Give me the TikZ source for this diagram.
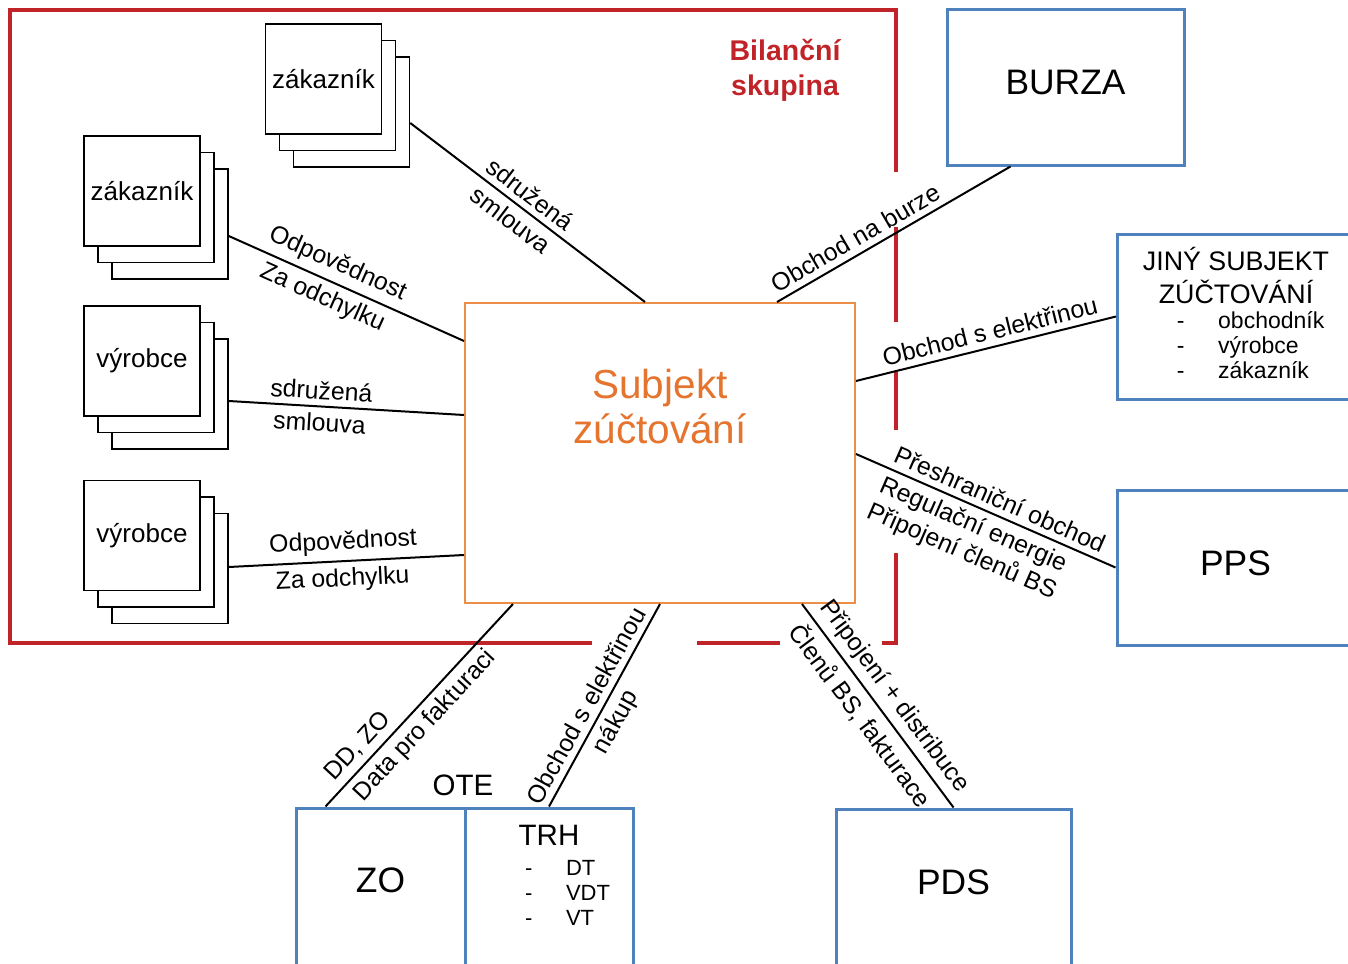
\documentclass[tikz,border=0pt]{standalone}
\usepackage{fontspec}
\setmainfont{Liberation Sans}
\usetikzlibrary{shadows}
\definecolor{bsred}{RGB}{192,36,40}
\definecolor{szline}{RGB}{234,142,72}
\definecolor{sztext}{RGB}{228,116,46}
\definecolor{boxblue}{RGB}{79,129,189}
\tikzset{
  stackbox/.style={draw, line width=0.75pt, fill=white, minimum width=58pt, minimum height=55pt,
    inner sep=0pt, font=\fontsize{13}{15}\selectfont,
    double copy shadow={shadow xshift=7pt, shadow yshift=-8.25pt}},
  blkbox/.style={draw=boxblue, line width=1.5pt, fill=white, inner sep=0pt},
  bigtxt/.style={font=\fontsize{17.7}{20}\selectfont},
  lbl/.style={font=\fontsize{12.4}{14.5}\selectfont, sloped, inner sep=3pt},
  link/.style={line width=1pt},
  bsline/.style={bsred, line width=1.8pt},
}
\begin{document}
\begin{tikzpicture}[x=0.5pt,y=-0.5pt]
\useasboundingbox (0,0) rectangle (1348,963);
% bilancni skupina (border with gaps)
\draw[bsline] (896,172) -- (896,10) -- (10,10) -- (10,643) -- (592,643);
\draw[bsline] (896,227) -- (896,322) (896,372) -- (896,430)
  (697,643) -- (780,643) (882,643) -- (896,643) -- (896,553);
\node[text=bsred, font=\bfseries\fontsize{14.25}{17.5}\selectfont, align=center] (bstitle) at (785,70) {Bilanční\\skupina};

% members of the group
\node[stackbox] (zak1) at (323.5,79) {zákazník};
\node[stackbox] (zak2) at (142,191) {zákazník};
\node[stackbox] (vyr1) at (142,361) {výrobce};
\node[stackbox] (vyr2) at (142,535.5) {výrobce};

\node[draw=szline, line width=1pt, fill=white, minimum width=195pt, minimum height=150pt,
  label={[text=sztext, font=\fontsize{20.25}{22.5}\selectfont, align=center, yshift=23pt]center:Subjekt\\zúčtování}] (subjekt) at (660,453) {};

% outside partners
\node[blkbox, minimum width=118.5pt, minimum height=77.5pt, label={[bigtxt, yshift=2.5pt]center:BURZA}] (burza) at (1065.5,87.5) {};
\node[blkbox, minimum width=118.5pt, minimum height=82.5pt] (jiny) at (1236,316.5) {\fontsize{11.5}{12.5}\selectfont
  \begin{tabular}{@{\hspace{17pt}}l@{\hspace{16.8pt}}l@{}}
  \multicolumn{2}{@{}c@{}}{\fontsize{13.4}{15}\selectfont JINÝ SUBJEKT}\\[1.2pt]
  \multicolumn{2}{@{}c@{}}{\fontsize{13.4}{15}\selectfont ZÚČTOVÁNÍ}\\
  - & obchodník\\
  - & výrobce\\
  - & zákazník
  \end{tabular}};
\node[blkbox, minimum width=118.5pt, minimum height=77.5pt, label={[bigtxt, yshift=2pt]center:PPS}] (pps) at (1235.5,567.5) {};
\node[blkbox, minimum width=84.5pt, minimum height=83.5pt, label={[bigtxt, yshift=5.75pt]center:ZO}] (zo) at (380.5,891.5) {};
\node[blkbox, minimum width=84pt, minimum height=83.5pt,
  label={[yshift=6.25pt]center:{\fontsize{11}{12.5}\selectfont
  \begin{tabular}{@{\hspace{18.6pt}}l@{\hspace{16.8pt}}l@{}}
  \multicolumn{2}{@{}c@{}}{\fontsize{14.75}{17}\selectfont TRH}\\[2.1pt]
  - & DT\\
  - & VDT\\
  - & VT
  \end{tabular}}}] (trh) at (549,891.5) {};
\node[font=\fontsize{14.75}{17}\selectfont] (ote) at (463,785) {OTE};
\node[blkbox, minimum width=117.5pt, minimum height=83pt, label={[bigtxt, yshift=5pt]center:PDS}] (pds) at (953.5,892) {};

% connections
\draw[link] ([shift={(28,44)}]zak1.east) -- ([shift={(-15,0)}]subjekt.north)
  node[lbl, pos=.47, above] {sdružená} node[lbl, pos=.47, below] {smlouva};
\draw[link] ([shift={(28,45)}]zak2.east) -- ([shift={(0,39)}]subjekt.north west)
  node[lbl, pos=.43, above] {Odpovědnost} node[lbl, pos=.43, below] {Za odchylku};
\draw[link] ([shift={(28,40)}]vyr1.east) -- ([shift={(0,113)}]subjekt.north west)
  node[lbl, pos=.39, above] {sdružená} node[lbl, pos=.39, below] {smlouva};
\draw[link] ([shift={(28,31.5)}]vyr2.east) -- ([shift={(0,253)}]subjekt.north west)
  node[lbl, pos=.49, above] {Odpovědnost} node[lbl, pos=.48, below] {Za odchylku};
\draw[link] ([shift={(117,0)}]subjekt.north) -- ([shift={(-55,0)}]burza.south)
  node[lbl, pos=.37, above] {Obchod na burze};
\draw[link] ([shift={(0,79)}]subjekt.north east) -- (jiny.west)
  node[lbl, pos=.53, above] {Obchod s elektřinou};
\draw[link] ([shift={(0,152)}]subjekt.north east) -- (pps.west)
  node[lbl, pos=.53, above] {Přeshraniční obchod}
  node[lbl, pos=.48, below, align=center] {Regulační energie\\Připojení členů BS};
\draw[link] ([shift={(31,0)}]zo.north west) -- ([shift={(-147,0)}]subjekt.south)
  node[lbl, pos=.24, above] {DD, ZO} node[lbl, pos=.46, below] {Data pro fakturaci};
\draw[link] (trh.north) -- (subjekt.south)
  node[lbl, pos=.46, above] {Obchod s elektřinou} node[lbl, pos=.46, below] {nákup};
\draw[link] ([shift={(142,0)}]subjekt.south) -- (pds.north)
  node[lbl, pos=.51, above] {Připojení + distribuce} node[lbl, pos=.49, below] {Členů BS, fakturace};
\end{tikzpicture}
\end{document}
